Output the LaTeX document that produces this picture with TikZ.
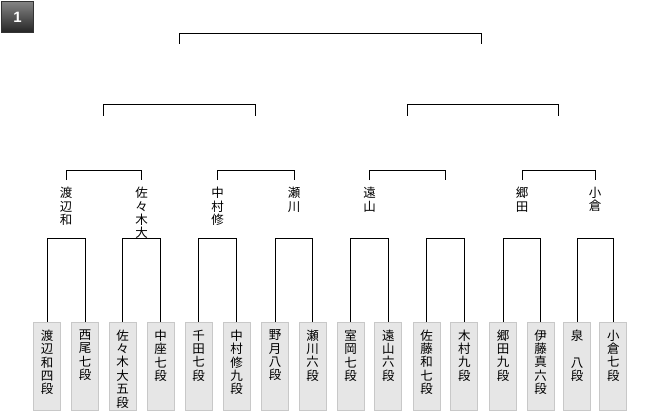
\documentclass[tikz,border=0pt]{standalone}
\usepackage{fontspec}
\setmainfont{Noto Sans CJK JP}
\newfontfamily\badgefont{Liberation Sans}
\definecolor{boxfill}{HTML}{E6E6E6}
\definecolor{boxline}{HTML}{C8C8C8}
\definecolor{badgetop}{HTML}{858585}
\definecolor{badgebot}{HTML}{262626}
\begin{document}
\begin{tikzpicture}[x=1pt,y=-1pt,
  brk/.style={draw=black,line width=1pt},
  player/.style={draw=boxline,fill=boxfill,line width=1pt,minimum width=27pt,minimum height=88pt,inner sep=0pt,anchor=north},
  vtext/.style={font=\fontsize{12.5}{13.4}\selectfont,align=center,inner sep=0pt,anchor=north}]
\useasboundingbox (0,0) rectangle (660,410);
% badge
\shade[top color=badgetop,bottom color=badgebot,draw=black!80] (1.5,1.5) rectangle (33,32);
\node[text=white,font=\badgefont\bfseries\fontsize{15}{15}\selectfont] (badge) at (17.5,17) {1};
% players
\foreach \i/\c/\t in {1/47/{渡\\辺\\和\\四\\段},2/85/{西\\尾\\七\\段},3/122.5/{佐\\々\\木\\大\\五\\段},4/160.5/{中\\座\\七\\段},
  5/198.5/{千\\田\\七\\段},6/236.5/{中\\村\\修\\九\\段},7/275/{野\\月\\八\\段},8/312.7/{瀬\\川\\六\\段},
  9/350.7/{室\\岡\\七\\段},10/388.3/{遠\\山\\六\\段},11/426.5/{佐\\藤\\和\\七\\段},12/464.3/{木\\村\\九\\段},
  13/503/{郷\\田\\九\\段},14/540.7/{伊\\藤\\真\\六\\段},15/577/{泉\\　\\八\\段},16/613.3/{小\\倉\\七\\段}}{
  \node[player] (b\i) at (\c,321.5) {};
  \node[vtext] (t\i) at (\c,329.5) {\t};
}
% round-1 winner positions
\foreach \n/\x in {1/66,2/141.5,3/217.5,4/294,5/369.5,6/445.4,7/522,8/595}{
  \coordinate (w\n) at (\x,180);
}
% round-1 brackets
\foreach \a/\b in {1/2,3/4,5/6,7/8,9/10,11/12,13/14,15/16}{
  \draw[brk] (b\a.north) -- (b\a.north |- 0,238.5) -| (b\b.north);
}
% winner names
\node[vtext] (n1) at (66,187) {渡\\辺\\和};
\node[vtext] (n2) at (141.5,187) {佐\\々\\木\\大};
\node[vtext] (n3) at (217.5,187) {中\\村\\修};
\node[vtext] (n4) at (294,187) {瀬\\川};
\node[vtext] (n5) at (369.5,187) {遠\\山};
\node[vtext] (n7) at (522,187) {郷\\田};
\node[vtext] (n8) at (595,187) {小\\倉};
% quarter brackets
\coordinate (s1) at (103.75,115.5);
\coordinate (s2) at (255.75,115.5);
\coordinate (s3) at (407.5,115.5);
\coordinate (s4) at (558.5,115.5);
\foreach \a/\b in {1/2,3/4,5/6,7/8}{
  \draw[brk] (w\a) -- (w\a |- 0,170) -| (w\b);
}
% semifinal brackets
\coordinate (f1) at (179,43.5);
\coordinate (f2) at (481,43.5);
\draw[brk] (s1) -- (s1 |- 0,104.5) -| (s2);
\draw[brk] (s3) -- (s3 |- 0,104.5) -| (s4);
% final bracket
\draw[brk] (f1) -- (f1 |- 0,33) -| (f2);
\end{tikzpicture}
\end{document}
